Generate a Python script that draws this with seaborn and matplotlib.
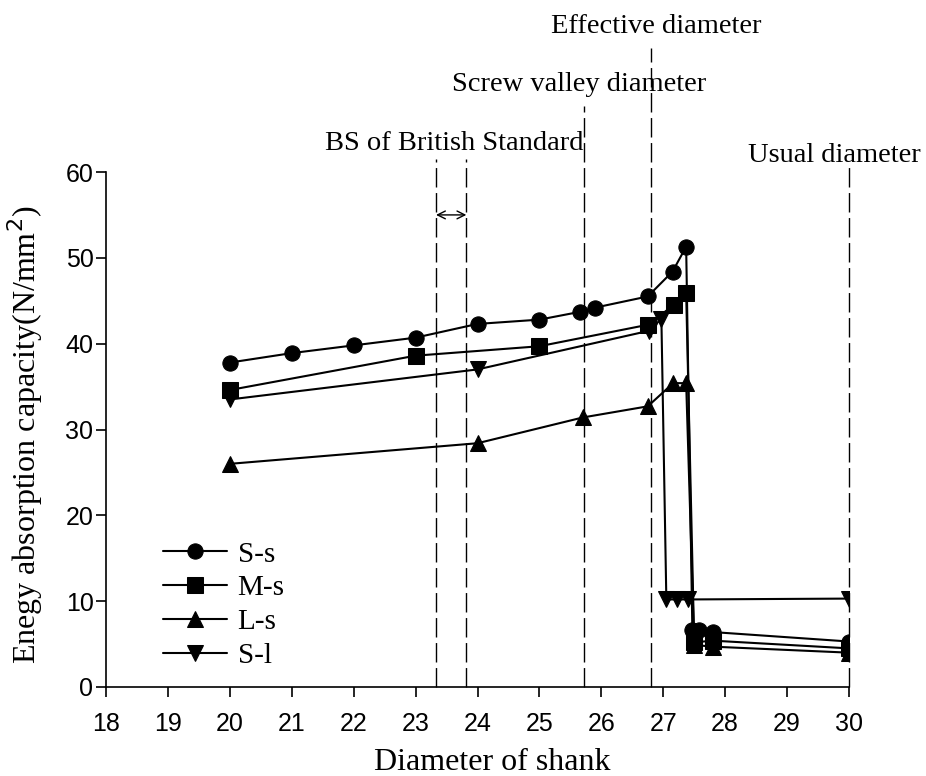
import matplotlib
matplotlib.use("Agg")
import matplotlib.pyplot as plt
import seaborn as sns
import pandas as pd

# ---- data ----
ss_x = [20, 21, 22, 23, 24, 25, 25.65, 25.9, 26.75, 27.15, 27.37, 27.47, 27.57, 27.8, 30]
ss_y = [37.8, 38.9, 39.8, 40.7, 42.3, 42.8, 43.7, 44.2, 45.5, 48.4, 51.3, 6.6, 6.6, 6.4, 5.3]
ms_x = [20, 23, 25, 26.75, 27.17, 27.37, 27.5, 27.8, 30]
ms_y = [34.6, 38.6, 39.7, 42.2, 44.5, 45.9, 5.2, 5.4, 4.5]
ls_x = [20, 24, 25.7, 26.75, 27.16, 27.37, 27.5, 27.8, 30]
ls_y = [26.0, 28.4, 31.4, 32.7, 35.4, 35.4, 4.9, 4.7, 4.0]
sl_x = [20, 24, 26.77, 26.97, 27.05, 27.23, 27.4, 30]
sl_y = [33.5, 37.0, 41.5, 42.9, 10.2, 10.2, 10.2, 10.3]
series_names = ["S-s", "M-s", "L-s", "S-l"]

ref_x = [23.33, 23.82, 25.72, 26.8, 30.0]
ref_top = [61.5, 61.5, 67.7, 74.4, 60.8]
ref_labels = ["BS of British Standard", "Screw valley diameter", "Effective diameter", "Usual diameter"]
ref_label_x = [23.63, 25.64, 26.88, 29.77]
ref_label_y = [62.6, 69.4, 76.2, 61.2]

x_ticks = list(range(18, 31))
y_ticks = list(range(0, 61, 10))

frames = []
for name, xs, ys in zip(series_names, [ss_x, ms_x, ls_x, sl_x], [ss_y, ms_y, ls_y, sl_y]):
    frames.append(pd.DataFrame({"diameter": xs, "energy": ys, "series": name}))
df = pd.concat(frames, ignore_index=True)

sns.set_style("ticks")
plt.rcParams["font.family"] = ["Liberation Serif", "DejaVu Serif"]
plt.rcParams["text.color"] = "black"
plt.rcParams["axes.labelcolor"] = "black"
plt.rcParams["xtick.color"] = "black"
plt.rcParams["ytick.color"] = "black"
plt.rcParams["legend.labelcolor"] = "black"

fig = plt.figure(figsize=(9.26, 7.76), dpi=100)
ax = fig.add_axes([106 / 926, 1 - 687 / 776, 743 / 926, 515 / 776])

markers = {"S-s": "o", "M-s": "s", "L-s": "^", "S-l": "v"}
sns.lineplot(data=df, x="diameter", y="energy", style="series", hue="series",
             palette={n: "black" for n in series_names},
             style_order=series_names, hue_order=series_names,
             markers=markers, dashes=False, sort=False, estimator=None,
             markersize=11, linewidth=1.5, markeredgecolor="black",
             ax=ax, legend=True)

# reference dashed lines
for xv, top in zip(ref_x, ref_top):
    ax.plot([xv, xv], [0, top], color="black", lw=1.0, linestyle=(0, (14, 4)),
            clip_on=False, zorder=1)

for txt, tx, ty in zip(ref_labels, ref_label_x, ref_label_y):
    ax.text(tx, ty, txt, ha="center", va="baseline", fontsize=20.5, color="black",
            family=["Liberation Serif"], clip_on=False)

ax.annotate("", xy=(ref_x[0], 55), xytext=(ref_x[1], 55),
            arrowprops=dict(arrowstyle="<->", lw=1.0, color="black",
                            shrinkA=0, shrinkB=0, mutation_scale=14))

ax.set_xlim(18, 30)
ax.set_ylim(0, 60)
ax.set_xticks(x_ticks)
ax.set_yticks(y_ticks)
for lab in ax.get_xticklabels() + ax.get_yticklabels():
    lab.set_family(["Liberation Sans"])
    lab.set_fontsize(18)
    lab.set_color("black")
ax.tick_params(axis="both", direction="out", length=7, width=1.2, colors="black")
ax.tick_params(axis="x", pad=11)
ax.tick_params(axis="y", pad=2)
for side in ["top", "right"]:
    ax.spines[side].set_visible(False)
for side in ["left", "bottom"]:
    ax.spines[side].set_color("black")
    ax.spines[side].set_linewidth(1.2)

ax.set_xlabel("")
ax.set_ylabel("")
fig.text(492 / 926, 1 - 762 / 776, "Diameter of shank", ha="center", va="center",
         fontsize=23, color="black")
fig.text(25 / 926, 1 - 435 / 776, "Enegy absorption capacity(N/mm$^2$)", ha="center",
         va="center", rotation=90, fontsize=23, color="black")

handles, labels = ax.get_legend_handles_labels()
leg = ax.legend(handles, labels, loc="upper left", bbox_to_anchor=(0.0767, 0.283),
                frameon=False, borderaxespad=0, borderpad=0, handlelength=2.2,
                handletextpad=0.36, labelspacing=0.25, fontsize=21)
for t in leg.get_texts():
    t.set_color("black")

fig.savefig("out.png", dpi=100, facecolor="white")
